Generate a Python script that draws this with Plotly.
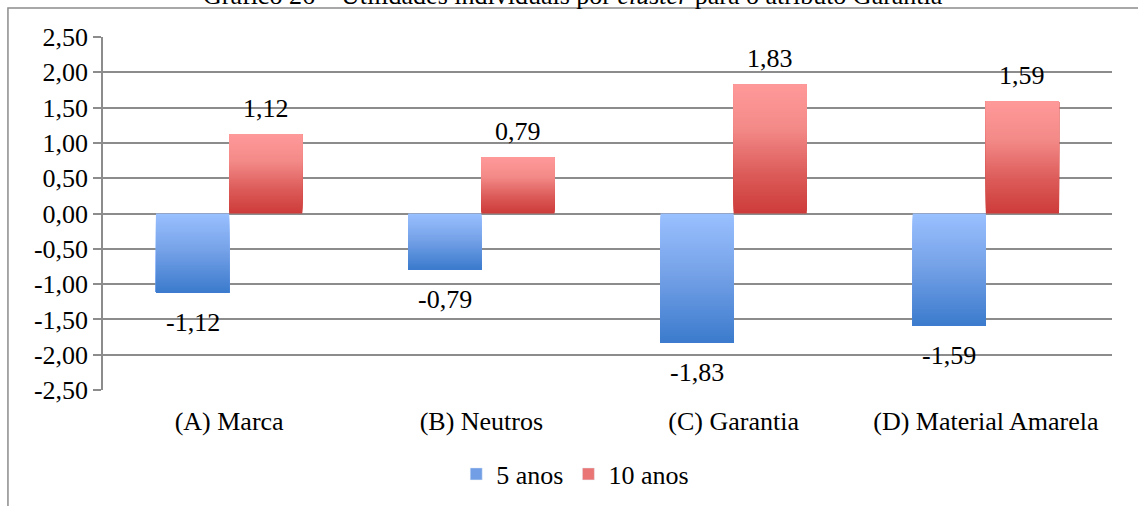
import plotly.graph_objects as go

categories = ["(A) Marca", "(B) Neutros", "(C) Garantia", "(D) Material Amarela"]
series_names = ["5 anos", "10 anos"]
values_5 = [-1.12, -0.79, -1.83, -1.59]
values_10 = [1.12, 0.79, 1.83, 1.59]
tick_vals = [2.5, 2.0, 1.5, 1.0, 0.5, 0.0, -0.5, -1.0, -1.5, -2.0, -2.5]
tick_text = ["2,50", "2,00", "1,50", "1,00", "0,50", "0,00", "-0,50", "-1,00", "-1,50", "-2,00", "-2,50"]
title_text = "Gráfico 26 – Utilidades individuais por <i>cluster</i> para o atributo Garantia"

FONT = "Liberation Serif"
FS = 26
N = 60
BAR_W = 0.29

# gradient stops: fraction from bar top -> rgb
blue_stops = [(0.0, (153, 192, 255)), (0.45, (118, 162, 232)), (1.0, (58, 122, 204))]
red_stops = [(0.0, (255, 154, 154)), (0.35, (243, 138, 136)), (0.7, (220, 92, 90)), (1.0, (205, 60, 58))]


def grad(stops, s):
    for (s0, c0), (s1, c1) in zip(stops[:-1], stops[1:]):
        if s <= s1:
            t = (s - s0) / (s1 - s0) if s1 > s0 else 0
            c = [round(a + (b - a) * t) for a, b in zip(c0, c1)]
            return "rgb(%d,%d,%d)" % tuple(c)
    return "rgb(%d,%d,%d)" % stops[-1][1]


def gradient_trace(vals, stops, offset, negative):
    xs, ys, bases, cols = [], [], [], []
    for cat, v in zip(categories, vals):
        for k in range(N):
            f = k / N
            xs.append(cat)
            bases.append(v * f)
            ys.append(v - v * f)
            s = f if negative else 1 - f
            cols.append(grad(stops, s))
    return go.Bar(x=xs, y=ys, base=bases, offset=offset, width=BAR_W,
                  marker=dict(color=cols, line=dict(width=0)),
                  showlegend=False, hoverinfo="skip")


fig = go.Figure()
fig.add_trace(gradient_trace(values_5, blue_stops, -BAR_W, True))
fig.add_trace(gradient_trace(values_10, red_stops, 0.0, False))

# legend entries
fig.add_trace(go.Bar(x=[None], y=[None], name=series_names[0], marker=dict(color=grad(blue_stops, 0.5))))
fig.add_trace(go.Bar(x=[None], y=[None], name=series_names[1], marker=dict(color=grad(red_stops, 0.5))))

annotations = []
for i, (a, b) in enumerate(zip(values_5, values_10)):
    for v, xo in ((a, -BAR_W / 2), (b, BAR_W / 2)):
        annotations.append(dict(
            x=i + xo, y=v, xref="x", yref="y",
            text=("%.2f" % v).replace(".", ","),
            showarrow=False, yanchor="middle",
            yshift=26 if v > 0 else -30,
            font=dict(family=FONT, size=FS, color="#000000")))

annotations.append(dict(
    x=0.466, y=1.071, xref="paper", yref="paper", xanchor="center", yanchor="bottom",
    text=title_text, showarrow=False,
    font=dict(family=FONT, size=FS, color="#000000")))

fig.update_layout(
    width=1138, height=506,
    margin=dict(l=103, r=26, t=37, b=116, autoexpand=False),
    paper_bgcolor="white", plot_bgcolor="white",
    barmode="overlay",
    font=dict(family=FONT, size=FS, color="#000000"),
    xaxis=dict(type="category", categoryorder="array", categoryarray=categories,
               range=[-0.5, 3.5], showgrid=False, showline=False, ticks="",
               ticklabelstandoff=13, automargin=False,
               tickfont=dict(family=FONT, size=FS, color="#000000"), zeroline=False),
    yaxis=dict(range=[-2.5, 2.5], tickvals=tick_vals, ticktext=tick_text,
               showgrid=True, gridcolor="#8c8c8c", gridwidth=1.5,
               zeroline=True, zerolinecolor="#8c8c8c", zerolinewidth=1.5,
               showline=True, linecolor="#8c8c8c", linewidth=1.5, automargin=False,
               ticks="outside", ticklen=8, tickcolor="#8c8c8c", tickwidth=1.5,
               tickfont=dict(family=FONT, size=FS, color="#000000")),
    legend=dict(orientation="h", x=0.468, xanchor="center", y=-0.238, yanchor="middle",
                font=dict(family=FONT, size=FS, color="#000000"), bgcolor="rgba(0,0,0,0)",
                itemwidth=30, traceorder="normal"),
    annotations=annotations,
    shapes=[dict(type="rect", xref="paper", yref="paper",
                 x0=-0.0942, x1=1.2, y0=-0.5, y1=1.0822,
                 line=dict(color="#8c8c8c", width=1.5), fillcolor="rgba(0,0,0,0)", layer="below")],
)

fig.write_html("out.html", config={"displayModeBar": False},
               post_script="document.body.style.margin='0';document.body.style.overflow='hidden';")
